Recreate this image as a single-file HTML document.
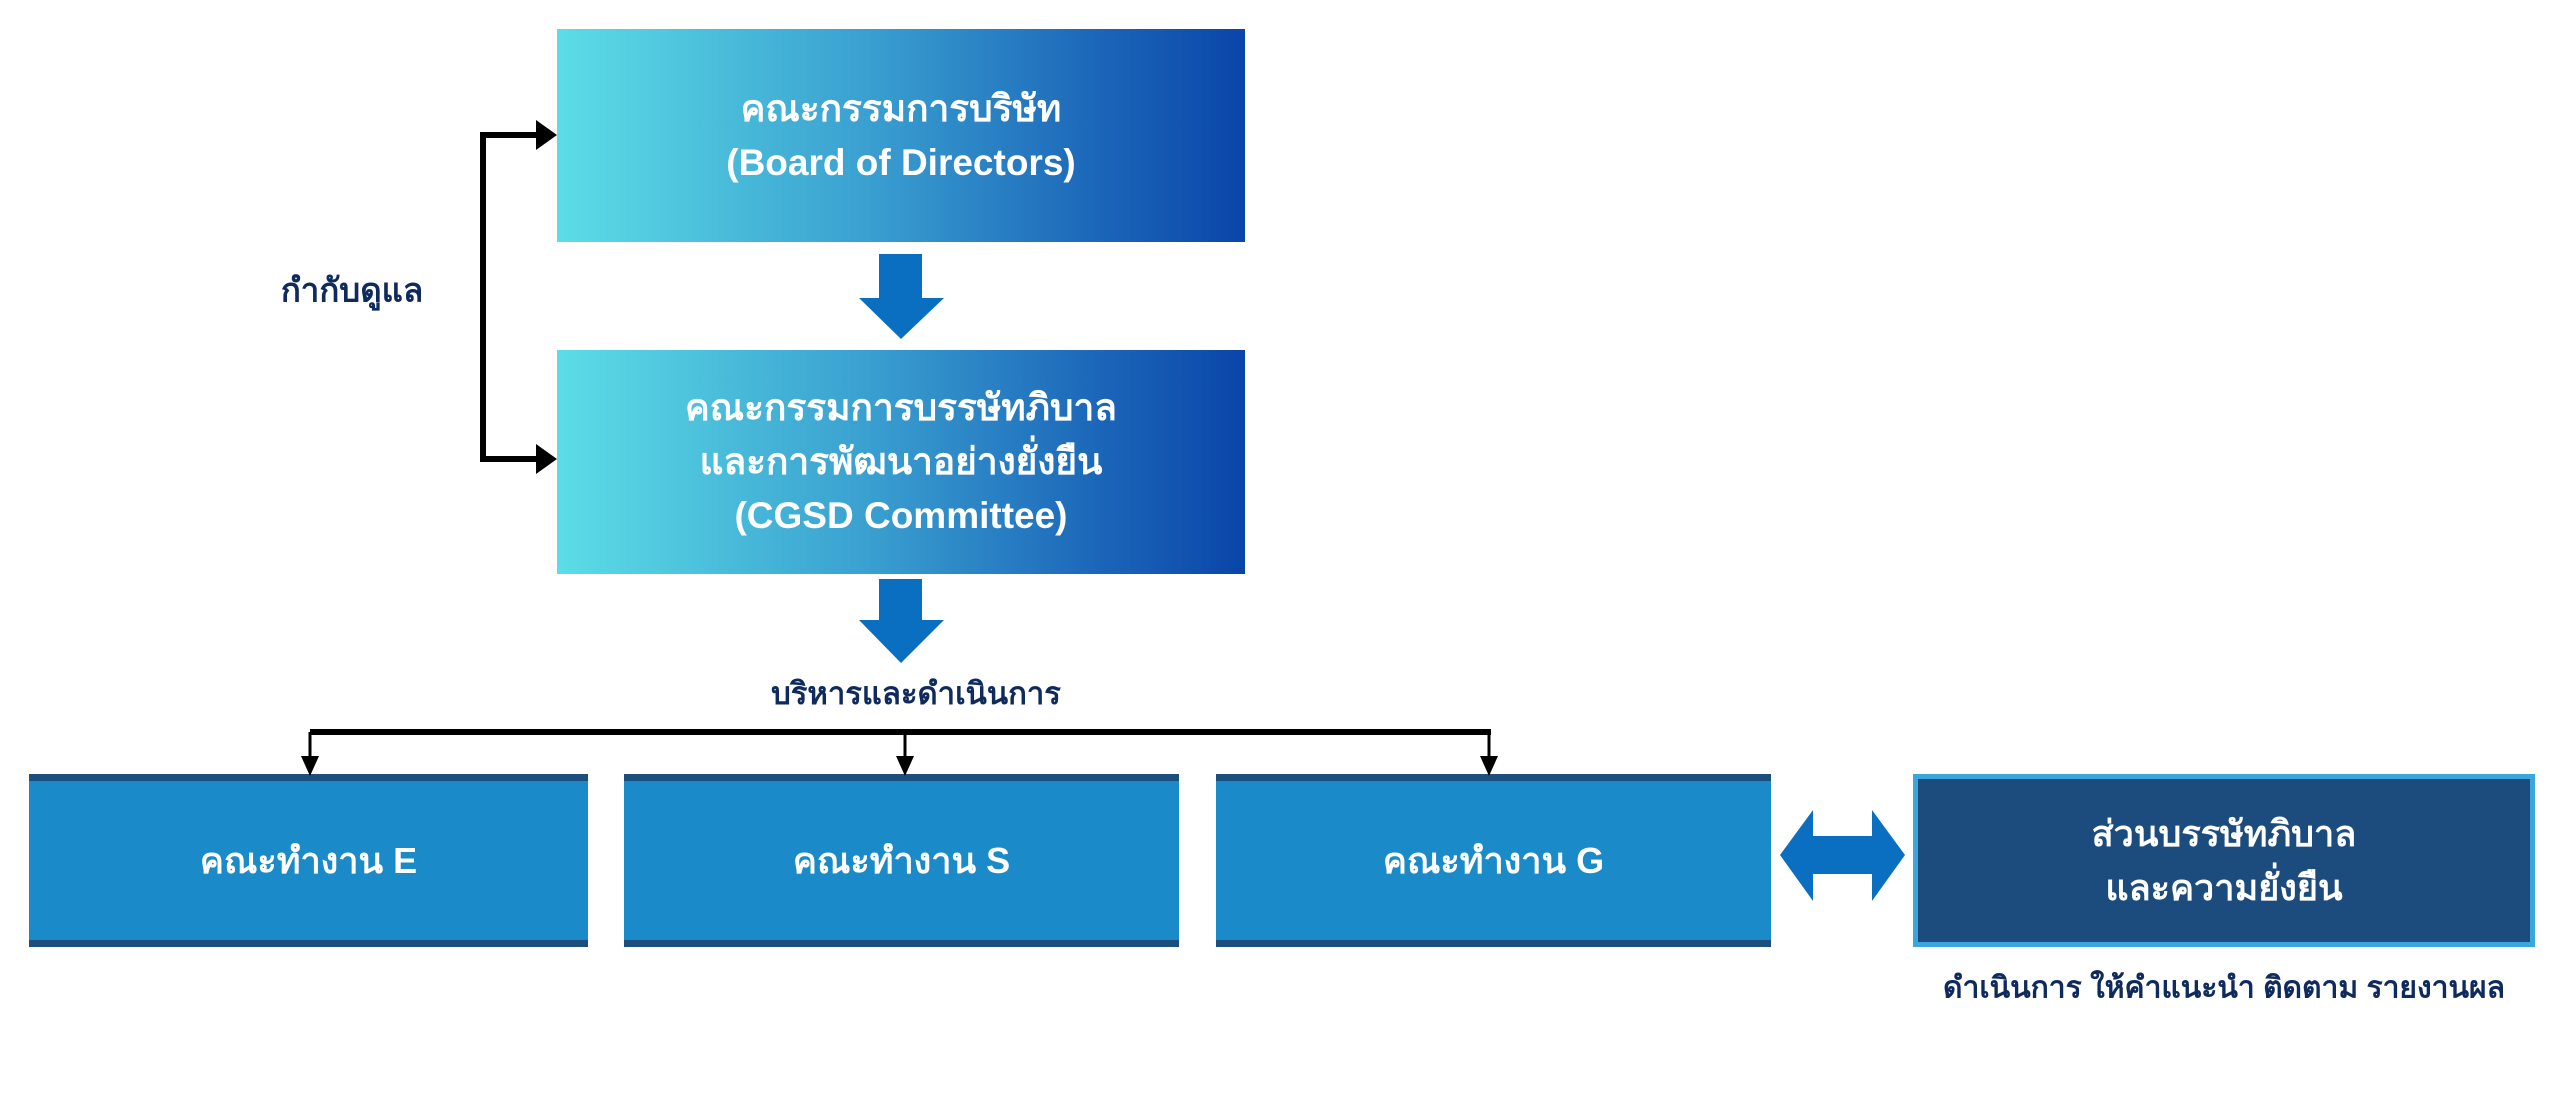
<!DOCTYPE html>
<html><head><meta charset="utf-8"><style>
body{margin:0;width:2560px;height:1097px;background:#fff;position:relative;overflow:hidden;font-family:"Liberation Sans","Noto Sans CJK SC",sans-serif;font-weight:bold}
.g{position:absolute;background:linear-gradient(90deg,#5cdde6,#3aa0d0 45%,#1a64b8 80%,#0a45a8);color:#fff;display:flex;align-items:center;justify-content:center;text-align:center;font-size:37px;line-height:54px}
.b{position:absolute;background:#1a8ac8;border-top:7px solid #1d4f7e;border-bottom:7px solid #1d4f7e;box-sizing:border-box;color:#fff;display:flex;align-items:center;justify-content:center;text-align:center;font-size:36px;line-height:54px}
.l{position:absolute;color:#0f2a5c;font-size:31px;white-space:nowrap;transform:translate(-50%,-50%)}
</style></head><body>
<div class="g" style="left:557px;top:29px;width:688px;height:213px">คณะกรรมการบริษัท<br>(Board of Directors)</div>
<div class="g" style="left:557px;top:350px;width:688px;height:224px">คณะกรรมการบรรษัทภิบาล<br>และการพัฒนาอย่างยั่งยืน<br>(CGSD Committee)</div>
<div class="b" style="left:29px;top:774px;width:559px;height:173px">คณะทำงาน E</div>
<div class="b" style="left:624px;top:774px;width:555px;height:173px">คณะทำงาน S</div>
<div class="b" style="left:1216px;top:774px;width:555px;height:173px">คณะทำงาน G</div>
<div class="b" style="left:1913px;top:774px;width:622px;height:173px;background:#1c4b7d;border:5px solid #3aa6dc">ส่วนบรรษัทภิบาล<br>และความยั่งยืน</div>
<div class="l" style="left:352px;top:290px;font-size:33px">กำกับดูแล</div>
<div class="l" style="left:916px;top:693px">บริหารและดำเนินการ</div>
<div class="l" style="left:2224px;top:988px;font-size:30px">ดำเนินการ ให้คำแนะนำ ติดตาม รายงานผล</div>
<svg width="2560" height="1097" style="position:absolute;left:0;top:0">
<g fill="#0a6fc0">
<polygon points="879,254 922,254 922,298 944,298 901,339 859,298 879,298"/>
<polygon points="879,579 922,579 922,620 944,620 901,663 859,620 879,620"/>
<polygon points="1780,855 1813,810 1813,836 1872,836 1872,810 1905,855 1872,901 1872,874 1813,874 1813,901"/>
</g>
<g stroke="#000" stroke-width="6" fill="none">
<polyline points="540,135 483,135 483,459 540,459"/>
<line x1="310" y1="732" x2="1491" y2="732"/>
</g>
<g stroke="#000" stroke-width="3">
<line x1="310" y1="732" x2="310" y2="760"/><line x1="905" y1="732" x2="905" y2="760"/><line x1="1489" y1="732" x2="1489" y2="760"/>
</g>
<g fill="#000">
<polygon points="536,120 557,135 536,150"/><polygon points="536,444 557,459 536,474"/>
<polygon points="301,756 319,756 310,776"/><polygon points="896,756 914,756 905,776"/><polygon points="1480,756 1498,756 1489,776"/>
</g>
</svg>
</body></html>
